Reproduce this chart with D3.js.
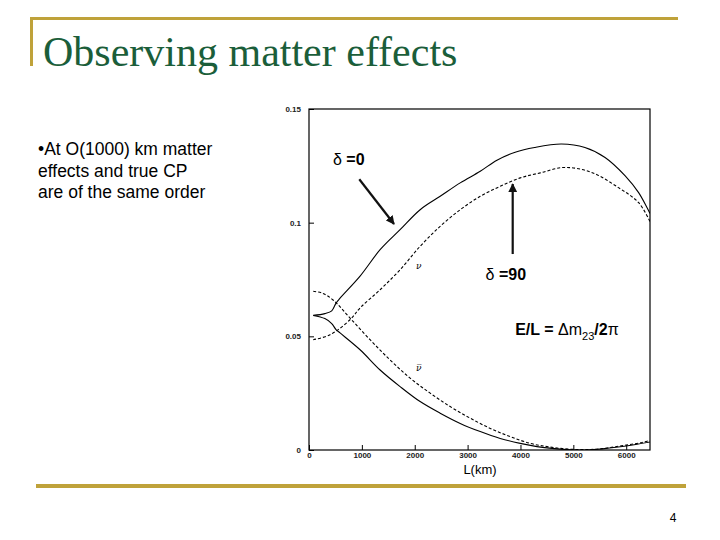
<!DOCTYPE html>
<html lang="en">
<head>
<meta charset="UTF-8">
<title>Observing matter effects</title>
<script src="https://d3js.org/d3.v7.min.js"></script>
<style>
    * { margin: 0; padding: 0; }
    body { background: #fff; }
    svg { display: block; }
</style>
</head>
<body>
<div id="slide"></div>
<script>
// appearance probability vs baseline L (km)
const nuDelta0 = [[80,0.0592],[300,0.0600],[430,0.0612],[511,0.0646],[587,0.0668],[966,0.0765],[1345,0.0881],[1723,0.0969],[2102,0.1057],[2481,0.1116],[2860,0.1175],[3239,0.1226],[3555,0.1275],[3900,0.1310],[4267,0.1331],[4775,0.1346],[5219,0.1331],[5600,0.1287],[5981,0.1206],[6235,0.1132],[6450,0.1040]];
const nuDelta90 = [[80,0.0485],[398,0.0507],[776,0.0573],[966,0.0625],[1345,0.0705],[1723,0.0793],[2102,0.0896],[2481,0.0984],[2860,0.1057],[3239,0.1116],[3617,0.1160],[3996,0.1197],[4375,0.1219],[4838,0.1243],[5346,0.1221],[5854,0.1154],[6235,0.1088],[6450,0.1005]];
const nubarDelta0 = [[80,0.0592],[300,0.0578],[430,0.0556],[511,0.0530],[587,0.0515],[966,0.0441],[1345,0.0352],[1723,0.0279],[2102,0.0213],[2481,0.0162],[2860,0.0117],[3239,0.0081],[3617,0.0051],[3996,0.0029],[4312,0.0015],[4650,0.0006],[4950,0.0001],[5250,0.0000],[5550,0.0005],[5850,0.0013],[6150,0.0023],[6450,0.0035]];
const nubarDelta90 = [[80,0.0698],[250,0.0690],[455,0.0660],[777,0.0580],[1155,0.0485],[1534,0.0396],[1913,0.0316],[2292,0.0250],[2670,0.0191],[3049,0.0140],[3428,0.0095],[3807,0.0059],[4186,0.0029],[4500,0.0015],[4800,0.0006],[5100,0.0002],[5400,0.0003],[5700,0.0011],[6000,0.0022],[6300,0.0033],[6450,0.0042]];

const xTicks = [0, 1000, 2000, 3000, 4000, 5000, 6000];
const yTicks = [0, 0.05, 0.1, 0.15];
const yTickLabels = ["0", "0.05", "0.1", "0.15"];
const bulletLines = ["\u2022At O(1000) km matter", "effects and true CP", "are of the same order"];

const W = 720, H = 540;
const gold = "#bfa23a";
const green = "#1b5e3a";
const sans = "'Liberation Sans', Arial, sans-serif";

const svg = d3.select("#slide").append("svg")
    .attr("width", W)
    .attr("height", H)
    .style("background", "#fff");

// slide decoration
svg.append("rect").attr("x", 30).attr("y", 17).attr("width", 648).attr("height", 3).attr("fill", gold);
svg.append("rect").attr("x", 30).attr("y", 17).attr("width", 3).attr("height", 49).attr("fill", gold);
svg.append("rect").attr("x", 36).attr("y", 484).attr("width", 650).attr("height", 4).attr("fill", gold);

svg.append("text")
    .attr("x", 43).attr("y", 66)
    .attr("font-family", "'Liberation Serif', 'Times New Roman', serif")
    .attr("font-size", 42)
    .attr("fill", green)
    .text("Observing matter effects");

svg.append("text")
    .attr("x", 673).attr("y", 522)
    .attr("text-anchor", "middle")
    .attr("font-family", sans)
    .attr("font-size", 12)
    .text("4");

svg.append("g")
    .attr("font-family", sans)
    .attr("font-size", 17.5)
    .selectAll("text")
    .data(bulletLines)
    .enter()
    .append("text")
    .attr("x", 38)
    .attr("y", (d, i) => 155 + i * 21.5)
    .text(d => d);

// plot
const x = d3.scaleLinear().domain([0, 6450]).range([309, 650]);
const y = d3.scaleLinear().domain([0, 0.15]).range([450, 109]);

svg.append("rect")
    .attr("x", x(0)).attr("y", y(0.15))
    .attr("width", x(6450) - x(0)).attr("height", y(0) - y(0.15))
    .attr("fill", "none").attr("stroke", "#000").attr("stroke-width", 1.2);

svg.append("defs").append("clipPath").attr("id", "plotclip")
    .append("rect")
    .attr("x", x(0)).attr("y", y(0.15))
    .attr("width", x(6450) - x(0)).attr("height", y(0) - y(0.15));

const xAxis = svg.append("g")
    .attr("transform", `translate(0,${y(0)})`)
    .call(d3.axisBottom(x).tickValues(xTicks).tickSize(-5).tickPadding(2).tickFormat(d3.format("d")));
const yAxis = svg.append("g")
    .attr("transform", `translate(${x(0)},0)`)
    .call(d3.axisLeft(y).tickValues(yTicks).tickSize(-5).tickPadding(8).tickFormat((d, i) => yTickLabels[i]));

[xAxis, yAxis].forEach(g => {
    g.select(".domain").remove();
    g.selectAll("text")
        .attr("font-family", sans)
        .attr("font-size", 8)
        .attr("font-weight", "bold")
        .attr("fill", "#222");
    g.selectAll("line").attr("stroke", "#000");
});

svg.append("text")
    .attr("x", 480).attr("y", 474)
    .attr("text-anchor", "middle")
    .attr("font-family", sans)
    .attr("font-size", 13)
    .text("L(km)");

const line = d3.line()
    .x(d => x(d[0]))
    .y(d => y(d[1]))
    .curve(d3.curveCatmullRom.alpha(0.5));

const series = [
    { data: nuDelta0, dash: null },
    { data: nuDelta90, dash: "3,2" },
    { data: nubarDelta0, dash: null },
    { data: nubarDelta90, dash: "3,2" }
];

svg.append("g")
    .attr("clip-path", "url(#plotclip)")
    .selectAll("path")
    .data(series)
    .enter()
    .append("path")
    .attr("d", d => line(d.data))
    .attr("fill", "none")
    .attr("stroke", "#000")
    .attr("stroke-width", 1.1)
    .attr("stroke-dasharray", d => d.dash);

// annotations
svg.append("defs").append("marker")
    .attr("id", "head")
    .attr("viewBox", "0 0 10 10")
    .attr("refX", 9).attr("refY", 5)
    .attr("markerWidth", 4).attr("markerHeight", 4)
    .attr("orient", "auto")
    .append("path").attr("d", "M0,0L10,5L0,10z").attr("fill", "#111");

const arrows = [
    { from: [951, 0.1191], to: [1608, 0.0994] },
    { from: [3853, 0.0862], to: [3853, 0.1170] }
];
svg.selectAll(".arrow")
    .data(arrows)
    .enter()
    .append("line")
    .attr("class", "arrow")
    .attr("x1", d => x(d.from[0])).attr("y1", d => y(d.from[1]))
    .attr("x2", d => x(d.to[0])).attr("y2", d => y(d.to[1]))
    .attr("stroke", "#111")
    .attr("stroke-width", 2.2)
    .attr("marker-end", "url(#head)");

function deltaLabel(L, P, value) {
    const t = svg.append("text")
        .attr("x", x(L)).attr("y", y(P))
        .attr("font-family", sans)
        .attr("font-size", 16);
    t.append("tspan").attr("font-weight", "normal").text("\u03b4 ");
    t.append("tspan").attr("font-weight", "bold").text("=" + value);
}
deltaLabel(454, 0.1254, "0");
deltaLabel(3340, 0.0748, "90");

const el = svg.append("text")
    .attr("x", x(3900)).attr("y", y(0.0505))
    .attr("font-family", sans)
    .attr("font-size", 16);
el.append("tspan").attr("font-weight", "bold").text("E/L = ");
el.append("tspan").text("\u0394m");
el.append("tspan").attr("font-size", 11).attr("dy", 5).text("23");
el.append("tspan").attr("font-weight", "bold").attr("dy", -5).text("/2");
el.append("tspan").text("\u03c0");

svg.append("text")
    .attr("x", x(2024)).attr("y", y(0.0796))
    .attr("font-family", "'DejaVu Serif', serif")
    .attr("font-style", "italic")
    .attr("font-size", 9)
    .text("\u03bd");
svg.append("text")
    .attr("x", x(2024)).attr("y", y(0.0347))
    .attr("font-family", "'DejaVu Serif', serif")
    .attr("font-style", "italic")
    .attr("font-size", 9)
    .text("\u03bd\u0305");
</script>
</body>
</html>
